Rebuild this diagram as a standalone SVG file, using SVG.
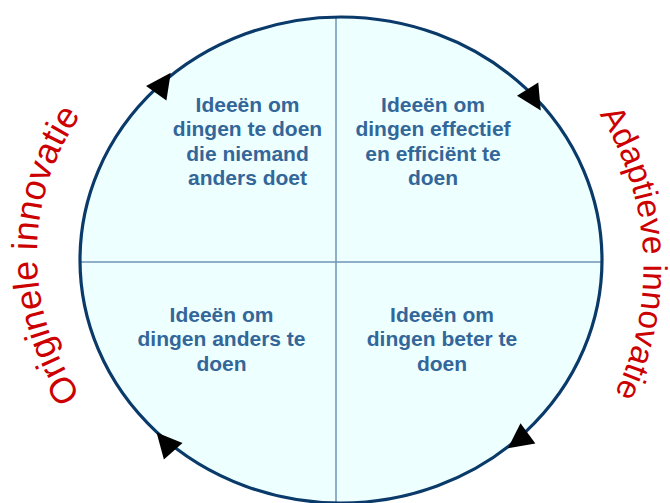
<svg xmlns="http://www.w3.org/2000/svg" width="670" height="503" viewBox="0 0 670 503">
<style>
.q{font-family:"Liberation Sans",Arial,sans-serif;font-weight:bold;font-size:21px;fill:#336699;text-anchor:middle}
.arc{font-family:"Liberation Sans",Arial,sans-serif;fill:#CC0000}
.div{stroke:#6F93B5;stroke-width:1.5;fill:none}
.head{fill:#000}
</style>
<defs>
<polygon id="tri" points="12.5,0 -12.5,-12.5 -12.5,12.5"/>
<path id="leftArc" d="M159.5,467.2 A245,245 0 0 1 159.5,42.8"/>
<path id="rightArc" d="M498.9,17.6 A289,289 0 0 1 498.9,518.2"/>
</defs>
<rect width="670" height="503" fill="#fff"/>
<g id="cycle">
<ellipse cx="341" cy="260" rx="261" ry="243" fill="#EEFFFF"/>
<line class="div" x1="336" y1="17" x2="336" y2="503"/>
<line class="div" x1="80" y1="262" x2="602" y2="262"/>
<ellipse cx="341" cy="260" rx="261" ry="243" fill="none" stroke="#0A3A6A" stroke-width="3.2"/>
</g>
<g id="connectors">
<use href="#tri" class="head" transform="translate(163.5,83) rotate(-54.5)"/>
<use href="#tri" class="head" transform="translate(534.2,99.8) rotate(58.3)"/>
<use href="#tri" class="head" transform="translate(517.9,440.8) rotate(143.5)"/>
<use href="#tri" class="head" transform="translate(164.9,441.9) rotate(228.3)"/>
</g>
<g id="q-topleft">
<text class="q" x="247.5" y="111.7">Ideeën om</text>
<text class="q" x="247.5" y="136.4">dingen te doen</text>
<text class="q" x="247.5" y="161.1">die niemand</text>
<text class="q" x="247.5" y="185.3">anders doet</text>
</g>
<g id="q-topright">
<text class="q" x="433" y="111.7">Ideeën om</text>
<text class="q" x="433" y="136.4">dingen effectief</text>
<text class="q" x="433" y="161.1">en efficiënt te</text>
<text class="q" x="433" y="185.3">doen</text>
</g>
<g id="q-bottomleft">
<text class="q" x="221.5" y="321.7">Ideeën om</text>
<text class="q" x="221.5" y="346.4">dingen anders te</text>
<text class="q" x="221.5" y="370.6">doen</text>
</g>
<g id="q-bottomright">
<text class="q" x="442" y="321.7">Ideeën om</text>
<text class="q" x="442" y="346.4">dingen beter te</text>
<text class="q" x="442" y="370.6">doen</text>
</g>
<g id="label-left">
<text class="arc" font-size="36"><textPath href="#leftArc" startOffset="107">Originele innovatie</textPath></text>
</g>
<g id="label-right">
<text class="arc" font-size="33.5"><textPath href="#rightArc" startOffset="140.7">Adaptieve innovatie</textPath></text>
</g>
</svg>
